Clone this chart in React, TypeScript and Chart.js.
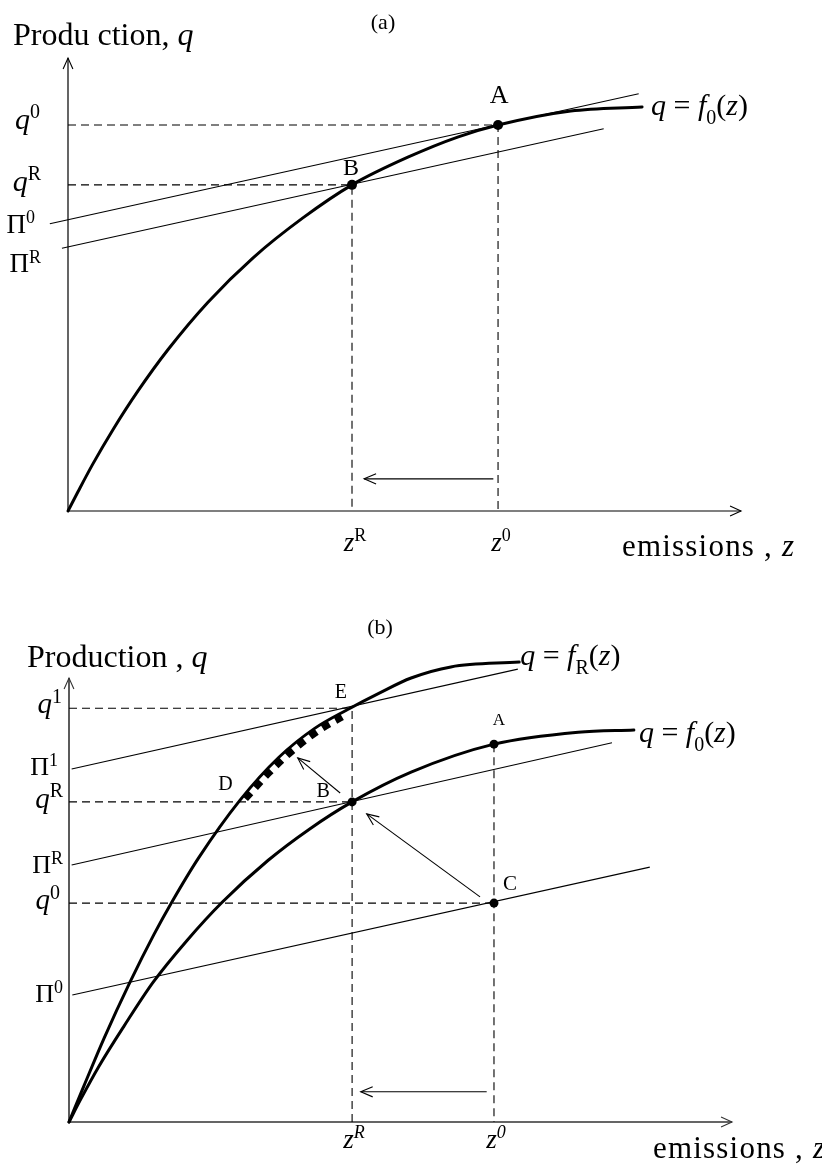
import React, { useEffect, useRef } from 'react';
import { Chart, registerables } from 'chart.js';

Chart.register(...registerables);

const SERIF = '"Liberation Serif", "Times New Roman", "DejaVu Serif", serif';

// ================= Panel (a) data (z = emissions, q = production; axis units 0–10) =================
const A_F0_Z = [0, 0.15, 0.37, 0.67, 1.04, 1.49, 2.08, 2.75, 3.49, 4.22, 5.05, 5.8, 6.39, 7.47, 8.53];
const A_F0_Q = [0, 0.43, 1.04, 1.8, 2.65, 3.57, 4.61, 5.59, 6.47, 7.2, 7.81, 8.26, 8.52, 8.83, 8.92];
const A_PI0_Z = [-0.27, 8.48];
const A_PI0_Q = [6.34, 9.21];
const A_PIR_Z = [-0.09, 7.96];
const A_PIR_Q = [5.8, 8.44];
const A_Z_TICKS = [4.22, 6.39]; // z^R, z^0
const A_Z_TICK_LABELS = ['*z*^{R}', '*z*^{0}'];
const A_Q_TICKS = [8.52, 7.2, 6.34, 5.8]; // q^0, q^R, Π^0, Π^R
const A_Q_TICK_LABELS = ['*q*^{0}', '*q*^{R}', 'Π^{0}', 'Π^{R}'];
const A_POINT_Z = [6.39, 4.22];
const A_POINT_Q = [8.52, 7.2];
const A_POINT_LABELS = ['A', 'B'];
const A_SHIFT_Z = [6.32, 4.4];
const A_SHIFT_Q = [0.71, 0.71];
const A_CURVE_LABEL = '*q* = *f*_{0}(*z*)';
const A_TITLE = '(a)';
const A_Y_TITLE = 'Produ ction, *q*';
const A_X_TITLE = 'emissions , *z*';

// ================= Panel (b) data =================
const B_F0_Z = [0, 0.18, 0.45, 0.83, 1.27, 1.78, 2.31, 3.0, 3.62, 4.27, 5.16, 6.41, 7.68, 8.52];
const B_F0_Q = [0, 0.52, 1.25, 2.16, 3.15, 4.09, 4.95, 5.89, 6.59, 7.21, 7.88, 8.51, 8.78, 8.83];
const B_FR_Z = [0, 0.23, 0.53, 0.92, 1.28, 1.55, 1.96, 2.58, 3.17, 3.7, 4.19, 4.68, 5.16, 5.76, 6.79];
const B_FR_Q = [0, 0.83, 1.89, 3.15, 4.22, 4.95, 5.96, 7.25, 8.22, 8.86, 9.28, 9.66, 10.0, 10.25, 10.36];
const B_DE_Z = [2.66, 3.0, 3.4, 3.8, 4.12];
const B_DE_Q = [7.28, 7.84, 8.4, 8.85, 9.12];
const B_PI1_Z = [0.04, 6.77];
const B_PI1_Q = [7.95, 10.2];
const B_PIR_Z = [0.04, 8.19];
const B_PIR_Q = [5.79, 8.54];
const B_PI0_Z = [0.05, 8.76];
const B_PI0_Q = [2.86, 5.74];
const B_Z_TICKS = [4.27, 6.41]; // z^R, z^0
const B_Z_TICK_LABELS = ['*z^{R}*', '*z^{0}*'];
const B_Q_TICKS = [9.32, 7.95, 7.21, 5.79, 4.93, 2.86]; // q^1, Π^1, q^R, Π^R, q^0, Π^0
const B_Q_TICK_LABELS = ['*q*^{1}', 'Π^{1}', '*q*^{R}', 'Π^{R}', '*q*^{0}', 'Π^{0}'];
const B_POINT_Z = [6.41, 4.27, 6.41];
const B_POINT_Q = [8.51, 7.21, 4.93];
const B_LABEL_Z = [6.41, 4.27, 6.41, 2.66, 4.16];
const B_LABEL_Q = [8.51, 7.21, 4.93, 7.28, 9.32];
const B_LABELS = ['A', 'B', 'C', 'D', 'E'];
const B_SHIFT_Z = [6.3, 4.4];
const B_SHIFT_Q = [0.68, 0.68];
const B_CB_Z = [6.2, 4.49];
const B_CB_Q = [5.07, 6.94];
const B_BE_Z = [4.09, 3.45];
const B_BE_Q = [7.41, 8.2];
const B_FR_LABEL = '*q* = *f*_{R}(*z*)';
const B_F0_LABEL = '*q* = *f*_{0}(*z*)';
const B_TITLE = '(b)';
const B_Y_TITLE = 'Production , *q*';
const B_X_TITLE = 'emissions , *z*';

// ================= helpers =================
type Pt = { x: number; y: number };
const zip = (zs: number[], qs: number[]): Pt[] => zs.map((z, i) => ({ x: z, y: qs[i] }));

type Seg = { t: string; it: boolean; pos: number; w?: number };
function parseRich(s: string): Seg[] {
  const segs: Seg[] = [];
  let it = false;
  let pos = 0;
  let buf = '';
  const flush = () => {
    if (buf) segs.push({ t: buf, it, pos });
    buf = '';
  };
  for (let i = 0; i < s.length; i++) {
    const c = s[i];
    if (c === '*') { flush(); it = !it; continue; }
    if ((c === '^' || c === '_') && s[i + 1] === '{') { flush(); pos = c === '^' ? 1 : -1; i++; continue; }
    if (c === '}' && pos !== 0) { flush(); pos = 0; continue; }
    buf += c;
  }
  flush();
  return segs;
}

function drawRich(ctx: CanvasRenderingContext2D, s: string, x: number, y: number, size: number, align: string, spacing = 0) {
  const segs = parseRich(s);
  const fontOf = (sg: Seg) => `${sg.it ? 'italic ' : ''}${sg.pos ? Math.round(size * 0.68) : size}px ${SERIF}`;
  (ctx as any).letterSpacing = `${spacing}px`;
  let w = 0;
  segs.forEach((sg) => { ctx.font = fontOf(sg); sg.w = ctx.measureText(sg.t).width; w += sg.w; });
  let cx = align === 'left' ? x : align === 'right' ? x - w : x - w / 2;
  ctx.textAlign = 'left';
  ctx.textBaseline = 'alphabetic';
  segs.forEach((sg) => {
    ctx.font = fontOf(sg);
    const dy = sg.pos === 1 ? -size * 0.36 : sg.pos === -1 ? size * 0.3 : 0;
    ctx.fillText(sg.t, cx, y + dy);
    cx += sg.w || 0;
  });
  (ctx as any).letterSpacing = '0px';
}

function head(ctx: CanvasRenderingContext2D, x1: number, y1: number, x2: number, y2: number, len: number, ang: number) {
  const a = Math.atan2(y2 - y1, x2 - x1);
  ctx.beginPath();
  ctx.moveTo(x2 - len * Math.cos(a - ang), y2 - len * Math.sin(a - ang));
  ctx.lineTo(x2, y2);
  ctx.lineTo(x2 - len * Math.cos(a + ang), y2 - len * Math.sin(a + ang));
  ctx.stroke();
}

const lineDs = (data: Pt[], width: number, extra: any = {}) => ({
  data,
  showLine: true,
  borderColor: '#000',
  backgroundColor: '#000',
  borderWidth: width,
  pointRadius: 0,
  pointHoverRadius: 0,
  fill: false,
  clip: false,
  ...extra,
});
const DASH = [8, 5];
const guide = (data: Pt[]) => lineDs(data, 1.1, { borderDash: DASH });
const curve = (data: Pt[]) => lineDs(data, 3, { cubicInterpolationMode: 'monotone', borderCapStyle: 'round', borderJoinStyle: 'round' });
const arrow = (data: Pt[]) => lineDs(data, 1.1, { arrowHead: 13 });
const dots = (data: Pt[], r: number) => ({
  data, showLine: false, pointRadius: r, pointHoverRadius: r,
  pointBackgroundColor: '#000', pointBorderColor: '#000', borderWidth: 0, clip: false,
});

type Label = { v?: number; z?: number; q?: number; text: string; dx: number; dy: number; size: number; align: string };
type Txt = { x: number; y: number; text: string; size: number; align: string; spacing?: number };
interface PanelCfg {
  height: number;
  padding: { left: number; right: number; top: number; bottom: number };
  datasets: any[];
  axisColor: string;
  axisWidth: number;
  yLabels: Label[];
  xLabels: Label[];
  anchored: Label[];
  texts: Txt[];
}

function makeDecor(cfg: PanelCfg) {
  return {
    id: 'decor',
    beforeDatasetsDraw(chart: any) {
      const ctx: CanvasRenderingContext2D = chart.ctx;
      const xs = chart.scales.x;
      const ys = chart.scales.y;
      const ox = xs.getPixelForValue(0);
      const oy = ys.getPixelForValue(0);
      const xe = xs.getPixelForValue(xs.max);
      const ye = ys.getPixelForValue(ys.max);
      ctx.save();
      ctx.strokeStyle = cfg.axisColor;
      ctx.lineWidth = cfg.axisWidth;
      ctx.beginPath();
      ctx.moveTo(ox, oy); ctx.lineTo(xe, oy);
      ctx.moveTo(ox, oy); ctx.lineTo(ox, ye);
      ctx.stroke();
      ctx.lineWidth = 1.1;
      head(ctx, ox, oy, xe, oy, 12, 0.42);
      head(ctx, ox, oy, ox, ye, 12, 0.42);
      ctx.restore();
    },
    afterDatasetsDraw(chart: any) {
      const ctx: CanvasRenderingContext2D = chart.ctx;
      const xs = chart.scales.x;
      const ys = chart.scales.y;
      const X = (v: number) => xs.getPixelForValue(v);
      const Y = (v: number) => ys.getPixelForValue(v);
      ctx.save();
      ctx.strokeStyle = '#000';
      ctx.lineWidth = 1.1;
      chart.data.datasets.forEach((ds: any, i: number) => {
        if (!ds.arrowHead) return;
        const pts = chart.getDatasetMeta(i).data;
        const p1 = pts[pts.length - 2];
        const p2 = pts[pts.length - 1];
        head(ctx, p1.x, p1.y, p2.x, p2.y, ds.arrowHead, 0.4);
      });
      ctx.fillStyle = '#000';
      const ox = X(0);
      const oy = Y(0);
      cfg.yLabels.forEach((l) => drawRich(ctx, l.text, ox + l.dx, Y(l.v as number) + l.dy, l.size, l.align));
      cfg.xLabels.forEach((l) => drawRich(ctx, l.text, X(l.v as number) + l.dx, oy + l.dy, l.size, l.align));
      cfg.anchored.forEach((l) => drawRich(ctx, l.text, X(l.z as number) + l.dx, Y(l.q as number) + l.dy, l.size, l.align));
      cfg.texts.forEach((t) => drawRich(ctx, t.text, t.x, t.y, t.size, t.align, t.spacing || 0));
      ctx.restore();
    },
  };
}

// ================= panel configurations =================
const A_Y_STYLE = [
  { dx: -28, dy: 4, size: 30 },
  { dx: -27, dy: 6, size: 30 },
  { dx: -33, dy: 9, size: 27 },
  { dx: -27, dy: 24, size: 27 },
];
const A_PT_STYLE = [
  { dx: 1, dy: -22, size: 26 },
  { dx: -1, dy: -10, size: 24 },
];

const panelA: PanelCfg = {
  height: 582,
  padding: { left: 68, right: 81, top: 58, bottom: 71 },
  axisColor: '#000',
  axisWidth: 1.2,
  datasets: [
    guide([{ x: 0, y: A_Q_TICKS[0] }, { x: A_Z_TICKS[1], y: A_Q_TICKS[0] }, { x: A_Z_TICKS[1], y: 0 }]),
    guide([{ x: 0, y: A_Q_TICKS[1] }, { x: A_Z_TICKS[0], y: A_Q_TICKS[1] }, { x: A_Z_TICKS[0], y: 0 }]),
    lineDs(zip(A_PI0_Z, A_PI0_Q), 1.1),
    lineDs(zip(A_PIR_Z, A_PIR_Q), 1.1),
    curve(zip(A_F0_Z, A_F0_Q)),
    arrow(zip(A_SHIFT_Z, A_SHIFT_Q)),
    dots(zip(A_POINT_Z, A_POINT_Q), 5),
  ],
  yLabels: A_Q_TICKS.map((v, i) => ({ v, text: A_Q_TICK_LABELS[i], ...A_Y_STYLE[i], align: 'right' })),
  xLabels: A_Z_TICKS.map((v, i) => ({ v, text: A_Z_TICK_LABELS[i], dx: 3, dy: 40, size: 27, align: 'center' })),
  anchored: [
    ...A_POINT_LABELS.map((t, i) => ({ z: A_POINT_Z[i], q: A_POINT_Q[i], text: t, ...A_PT_STYLE[i], align: 'center' })),
    { z: A_F0_Z[A_F0_Z.length - 1], q: A_F0_Q[A_F0_Q.length - 1], text: A_CURVE_LABEL, dx: 9, dy: 8, size: 30, align: 'left' },
  ],
  texts: [
    { x: 383, y: 29, text: A_TITLE, size: 22, align: 'center' },
    { x: 13, y: 45, text: A_Y_TITLE, size: 32, align: 'left' },
    { x: 622, y: 556, text: A_X_TITLE, size: 31, align: 'left', spacing: 1.2 },
  ],
};

const B_Y_STYLE = [
  { dx: -7, dy: 5, size: 29 },
  { dx: -11, dy: 6, size: 26 },
  { dx: -6, dy: 6, size: 29 },
  { dx: -6, dy: 8, size: 26 },
  { dx: -9, dy: 6, size: 29 },
  { dx: -6, dy: 7, size: 26 },
];
const B_PT_STYLE = [
  { dx: 5, dy: -19, size: 17 },
  { dx: -29, dy: -5, size: 20 },
  { dx: 16, dy: -13, size: 21 },
  { dx: -20, dy: -9, size: 20 },
  { dx: -4, dy: -10, size: 20 },
];

const panelB: PanelCfg = {
  height: 582,
  padding: { left: 69, right: 90, top: 96, bottom: 42 },
  axisColor: '#333',
  axisWidth: 1.6,
  datasets: [
    guide([{ x: 0, y: B_Q_TICKS[0] }, { x: B_Z_TICKS[0], y: B_Q_TICKS[0] }, { x: B_Z_TICKS[0], y: 0 }]),
    guide([{ x: 0, y: B_Q_TICKS[2] }, { x: B_Z_TICKS[0], y: B_Q_TICKS[2] }]),
    guide([{ x: 0, y: B_Q_TICKS[4] }, { x: B_Z_TICKS[1], y: B_Q_TICKS[4] }]),
    guide([{ x: B_Z_TICKS[1], y: B_POINT_Q[0] }, { x: B_Z_TICKS[1], y: 0 }]),
    lineDs(zip(B_PI1_Z, B_PI1_Q), 1.1),
    lineDs(zip(B_PIR_Z, B_PIR_Q), 1.1),
    lineDs(zip(B_PI0_Z, B_PI0_Q), 1.1),
    curve(zip(B_FR_Z, B_FR_Q)),
    curve(zip(B_F0_Z, B_F0_Q)),
    lineDs(zip(B_DE_Z, B_DE_Q), 7, { borderDash: [8, 7], cubicInterpolationMode: 'monotone' }),
    arrow(zip(B_SHIFT_Z, B_SHIFT_Q)),
    arrow(zip(B_CB_Z, B_CB_Q)),
    arrow(zip(B_BE_Z, B_BE_Q)),
    dots(zip(B_POINT_Z, B_POINT_Q), 4.5),
  ],
  yLabels: B_Q_TICKS.map((v, i) => ({ v, text: B_Q_TICK_LABELS[i], ...B_Y_STYLE[i], align: 'right' })),
  xLabels: B_Z_TICKS.map((v, i) => ({ v, text: B_Z_TICK_LABELS[i], dx: 2, dy: 26, size: 27, align: 'center' })),
  anchored: [
    ...B_LABELS.map((t, i) => ({ z: B_LABEL_Z[i], q: B_LABEL_Q[i], text: t, ...B_PT_STYLE[i], align: 'center' })),
    { z: B_FR_Z[B_FR_Z.length - 1], q: B_FR_Q[B_FR_Q.length - 1], text: B_FR_LABEL, dx: 1, dy: 3, size: 30, align: 'left' },
    { z: B_F0_Z[B_F0_Z.length - 1], q: B_F0_Q[B_F0_Q.length - 1], text: B_F0_LABEL, dx: 5, dy: 12, size: 30, align: 'left' },
  ],
  texts: [
    { x: 380, y: 52, text: B_TITLE, size: 22, align: 'center' },
    { x: 27, y: 85, text: B_Y_TITLE, size: 32, align: 'left' },
    { x: 653, y: 576, text: B_X_TITLE, size: 31, align: 'left', spacing: 1.2 },
  ],
};

function Panel({ cfg, top }: { cfg: PanelCfg; top: number }) {
  const ref = useRef<HTMLCanvasElement | null>(null);
  useEffect(() => {
    if (!ref.current) return;
    const chart = new Chart(ref.current, {
      type: 'scatter',
      data: { datasets: cfg.datasets },
      options: {
        animation: false,
        responsive: false,
        devicePixelRatio: 1,
        events: [],
        layout: { padding: cfg.padding },
        scales: {
          x: { type: 'linear', min: 0, max: 10, display: false },
          y: { type: 'linear', min: 0, max: 10, display: false },
        },
        plugins: { legend: { display: false }, tooltip: { enabled: false }, title: { display: false } },
      } as any,
      plugins: [makeDecor(cfg) as any],
    });
    return () => chart.destroy();
  }, [cfg]);
  return (
    <canvas
      ref={ref}
      width={822}
      height={cfg.height}
      style={{ position: 'absolute', left: 0, top, width: 822, height: cfg.height, display: 'block' }}
    />
  );
}

export default function App() {
  return (
    <div style={{ position: 'absolute', left: 0, top: 0, width: 822, height: 1164, background: '#fff' }}>
      <Panel cfg={panelA} top={0} />
      <Panel cfg={panelB} top={582} />
    </div>
  );
}
